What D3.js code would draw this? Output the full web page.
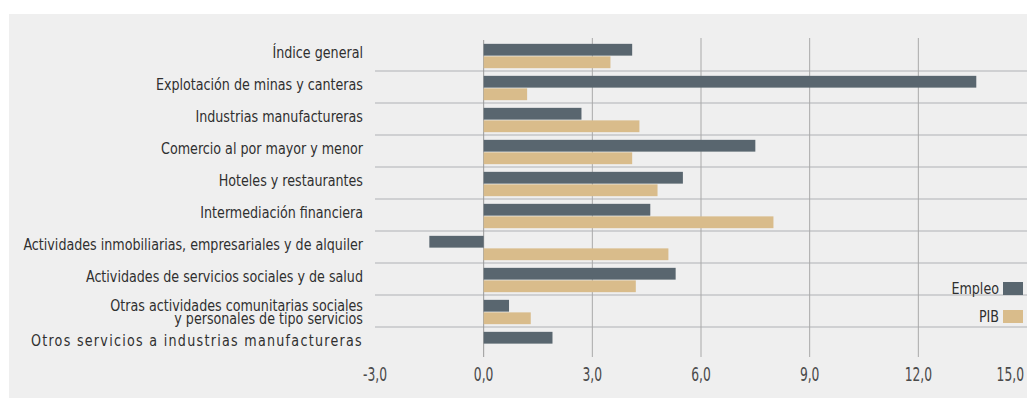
<!DOCTYPE html>
<html>
<head>
<meta charset="utf-8">
<script src="https://cdn.jsdelivr.net/npm/d3@7"></script>
<style>
  html, body { margin: 0; padding: 0; background: #ffffff; }
  svg { display: block; }
  text { font-family: "DejaVu Sans Condensed", "DejaVu Sans", sans-serif; }
</style>
</head>
<body>
<svg id="chart" width="1027" height="409"></svg>
<script>
const categories = [
  ["Índice general"],
  ["Explotación de minas y canteras"],
  ["Industrias manufactureras"],
  ["Comercio al por mayor y menor"],
  ["Hoteles y restaurantes"],
  ["Intermediación financiera"],
  ["Actividades inmobiliarias, empresariales y de alquiler"],
  ["Actividades de servicios sociales y de salud"],
  ["Otras actividades comunitarias sociales", "y personales de tipo servicios"],
  ["Otros servicios a industrias manufactureras"]
];
const seriesNames = ["Empleo", "PIB"];
const empleo = [4.1, 13.6, 2.7, 7.5, 5.5, 4.6, -1.5, 5.3, 0.7, 1.9];
const pib    = [3.5, 1.2, 4.3, 4.1, 4.8, 8.0, 5.1, 4.2, 1.3, null];
const tickValues = [-3, 0, 3, 6, 9, 12, 15];
const tickLabels = ["-3,0", "0,0", "3,0", "6,0", "9,0", "12,0", "15,0"];
const colors = ["#59666f", "#d9bc8b"];

const svg = d3.select("#chart");
svg.append("rect").attr("x", 9).attr("y", 14).attr("width", 1018).attr("height", 384).attr("fill", "#efefef");

const x = d3.scaleLinear().domain([-3, 15]).range([375, 1027]);
const idx = d3.range(categories.length);
const y = d3.scaleBand().domain(idx).range([40, 360]).paddingInner(0.24).paddingOuter(0.12);
const y1 = d3.scaleBand().domain(seriesNames).range([0, y.bandwidth()]).paddingInner(0.06);

function condense(sel, ax, f) {
  sel.attr("transform", `translate(${ax},0) scale(${f},1) translate(${-ax},0)`);
}

// row separators
const gap = (y.step() - y.bandwidth()) / 2;
svg.append("g").selectAll("line").data(idx.slice(0, -1)).join("line")
  .attr("x1", x(-3)).attr("x2", 1027)
  .attr("y1", d => y(d) + y.bandwidth() + gap - 1)
  .attr("y2", d => y(d) + y.bandwidth() + gap - 1)
  .attr("stroke", "#c4c6c8").attr("stroke-width", 1.6);

// vertical grid lines
svg.append("g").selectAll("line").data(tickValues.filter(v => v > 0 && v < 15)).join("line")
  .attr("x1", d => x(d)).attr("x2", d => x(d))
  .attr("y1", 38).attr("y2", 357)
  .attr("stroke", "#a9a9a9").attr("stroke-width", 1);
svg.append("line").attr("x1", x(0)).attr("x2", x(0)).attr("y1", 40).attr("y2", 357)
  .attr("stroke", "#9a9a9a").attr("stroke-width", 1);

// bars
const rows = idx.map(i => ({ i, vals: [empleo[i], pib[i]] }));
const g = svg.append("g").selectAll("g").data(rows).join("g")
  .attr("transform", d => `translate(0,${y(d.i)})`);
g.selectAll("rect").data(d => d.vals.map((v, k) => ({ v, k })).filter(e => e.v !== null)).join("rect")
  .attr("x", e => x(Math.min(0, e.v)))
  .attr("width", e => Math.abs(x(e.v) - x(0)))
  .attr("y", e => y1(seriesNames[e.k]))
  .attr("height", y1.bandwidth())
  .attr("fill", e => colors[e.k]);

// category labels
const labG = svg.append("g");
const lab = labG.selectAll("text").data(idx).join("text")
  .attr("x", 363)
  .attr("text-anchor", "end")
  .attr("font-size", 16)
  .attr("fill", "#2f2f2f")
  .attr("letter-spacing", d => d === idx.length - 1 ? 1.45 : 0)
  .attr("y", d => y(d) + y.bandwidth() / 2 + (categories[d].length > 1 ? -1 : 2));
lab.selectAll("tspan").data(d => categories[d]).join("tspan")
  .attr("x", 363)
  .attr("dy", (t, k) => k === 0 ? 0 : 13.5)
  .text(t => t);
let maxW = 0;
lab.each(function () { maxW = Math.max(maxW, this.getBBox().width); });
const f = 340 / maxW;
condense(labG, 363, f);

// x axis tick labels
const tickG = svg.append("g").selectAll("text").data(tickValues).join("text")
  .attr("x", (d, k) => k === tickValues.length - 1 ? 1024 : x(d))
  .attr("y", 381)
  .attr("text-anchor", (d, k) => k === tickValues.length - 1 ? "end" : "middle")
  .attr("font-size", 19)
  .attr("fill", "#4a4a4a")
  .text((d, k) => tickLabels[k]);
tickG.each(function () {
  const ax = +this.getAttribute("x");
  condense(d3.select(this), ax, 0.72);
});

// legend
const leg = svg.append("g").selectAll("g").data(seriesNames).join("g")
  .attr("transform", (d, k) => `translate(0,${282 + k * 28})`);
leg.append("rect").attr("x", 1003).attr("y", 0).attr("width", 20).attr("height", 13)
  .attr("fill", (d, k) => colors[k]);
const legT = leg.append("text").attr("x", 999).attr("y", 12).attr("text-anchor", "end")
  .attr("font-size", 16).attr("fill", "#2f2f2f").text(d => d);
legT.each(function () { condense(d3.select(this), 999, f); });
</script>
</body>
</html>
